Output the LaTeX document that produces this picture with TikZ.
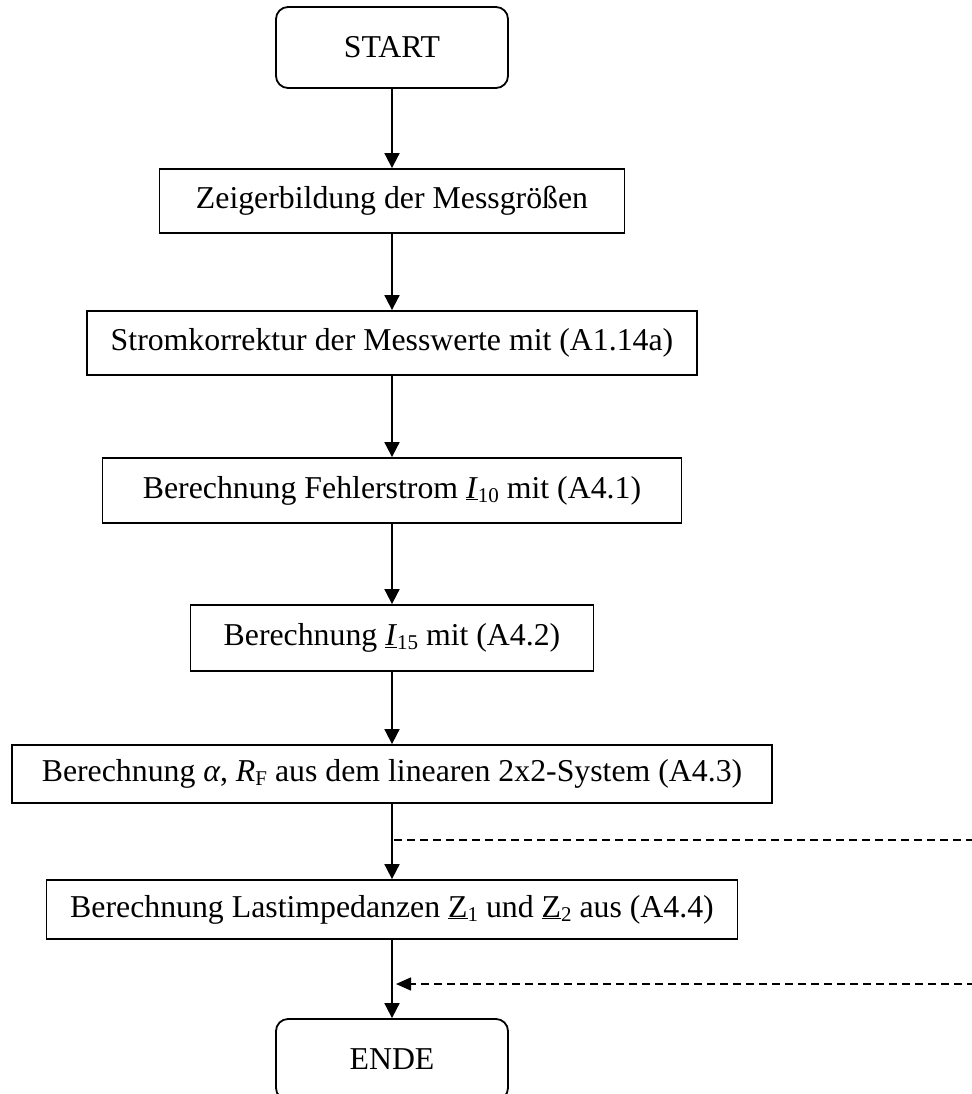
\documentclass[tikz,border=0pt]{standalone}
\usepackage{fontspec}
\setmainfont{Liberation Serif}
\usetikzlibrary{arrows.meta}
% lowered, smaller index (e.g. I_10, R_F)
\newcommand\lo[1]{\raisebox{-0.3ex}{\fontsize{21}{21}\selectfont #1}}
\begin{document}
\begin{tikzpicture}[x=1pt,y=-1pt,
  every node/.style={font=\fontsize{31.8}{38}\selectfont},
  stepbox/.style={draw,line width=1.8pt,inner sep=0pt},
  termbox/.style={stepbox,rounded corners=12pt},
  flow/.style={line width=1.8pt,-{Triangle[length=15pt,width=15pt]}},
  feed/.style={line width=1.5pt,dash pattern=on 8pt off 5pt}]
\useasboundingbox (0,0) rectangle (971,1094);

% process steps
\node[termbox,minimum width=232pt,minimum height=81pt] (start) at (392,47.5) {START};
\node[stepbox,minimum width=465pt,minimum height=64pt] (b2) at (392,201) {Zeigerbildung der Messgrößen};
\node[stepbox,minimum width=610pt,minimum height=64pt] (b3) at (392,343) {Stromkorrektur der Messwerte mit (A1.14a)};
\node[stepbox,minimum width=579pt,minimum height=65pt] (b4) at (392,490.5) {Berechnung Fehlerstrom \underline{\textit{I}}\lo{10} mit (A4.1)};
\node[stepbox,minimum width=403pt,minimum height=66pt] (b5) at (392,638) {Berechnung \underline{\textit{I}}\lo{15} mit (A4.2)};
\node[stepbox,minimum width=760pt,minimum height=58pt] (b6) at (392,774) {Berechnung \textit{α}, \textit{R}\lo{F} aus dem linearen 2x2-System (A4.3)};
\node[stepbox,minimum width=691pt,minimum height=59pt] (b7) at (392,909.5) {Berechnung Lastimpedanzen \underline{Z}\lo{1} und \underline{Z}\lo{2} aus (A4.4)};
\node[termbox,minimum width=232pt,minimum height=81pt] (ende) at (392,1059.5) {ENDE};

% main flow
\draw[flow] (start) -- (b2);
\draw[flow] (b2) -- (b3);
\draw[flow] (b3) -- (b4);
\draw[flow] (b4) -- (b5);
\draw[flow] (b5) -- (b6);
\draw[flow] (b6) -- (b7);
\draw[flow] (b7) -- (ende);

% dashed side paths
\coordinate (out1) at (394,840);
\coordinate (out1e) at (975,840);
\coordinate (in2) at (396,984);
\coordinate (in2s) at (975,984);
\draw[feed] (out1) -- (out1e);
\draw[feed,-{Triangle[length=15pt,width=13pt]}] (in2s) -- (in2);
\end{tikzpicture}
\end{document}
